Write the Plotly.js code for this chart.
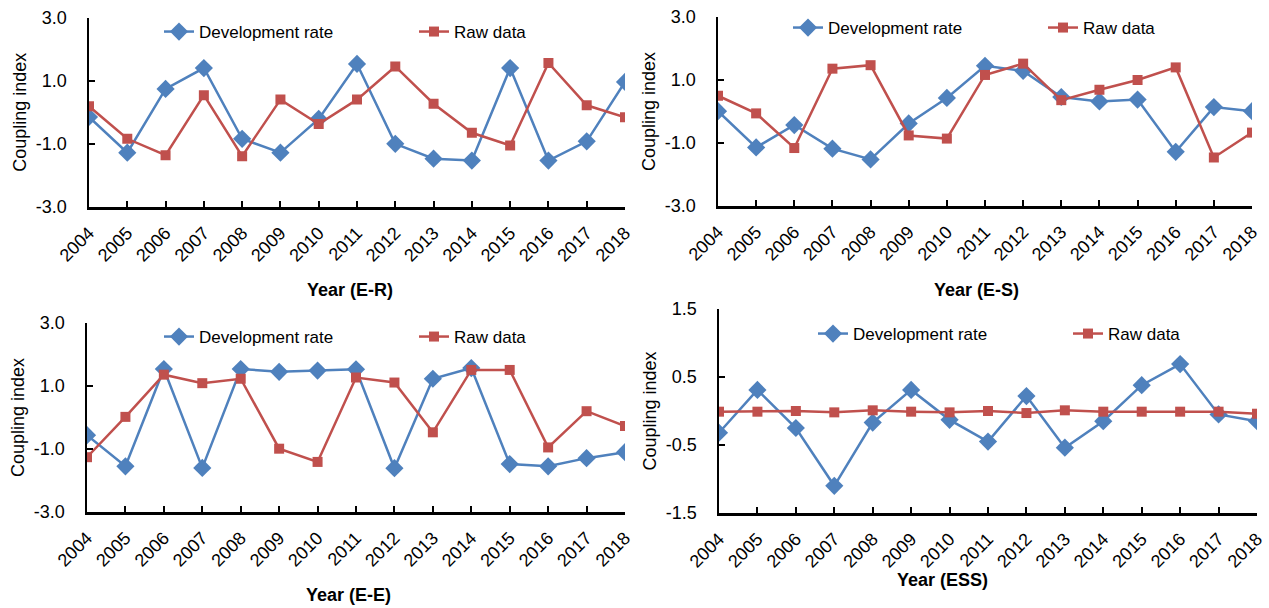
<!DOCTYPE html>
<html>
<head>
<meta charset="utf-8">
<script src="https://cdn.plot.ly/plotly-3.0.1.min.js"></script>
<style>html,body{margin:0;padding:0;background:#fff;}#chart{width:1269px;height:608px;}</style>
</head>
<body>
<div id="chart"></div>
<script>
// ---- data ----
const years = [2004,2005,2006,2007,2008,2009,2010,2011,2012,2013,2014,2015,2016,2017,2018];
const seriesNames = ['Development rate', 'Raw data'];
const panelTitles = ['Year (E-R)', 'Year (E-S)', 'Year (E-E)', 'Year (ESS)'];
const yTitle = 'Coupling index';
const yTicksWide = [-3, -1, 1, 3];
const yTicksNarrow = [-1.5, -0.5, 0.5, 1.5];

const erDev  = [-0.15,-1.28,0.74,1.40,-0.84,-1.28,-0.21,1.53,-1.00,-1.47,-1.53,1.40,-1.53,-0.92,0.96];
const erRaw  = [0.19,-0.84,-1.36,0.54,-1.39,0.40,-0.37,0.40,1.45,0.27,-0.65,-1.05,1.56,0.22,-0.16];
const esDev  = [0.01,-1.14,-0.43,-1.18,-1.52,-0.38,0.43,1.45,1.29,0.46,0.32,0.38,-1.28,0.14,0.01];
const esRaw  = [0.50,-0.06,-1.16,1.36,1.47,-0.76,-0.86,1.16,1.52,0.36,0.69,1.00,1.40,-1.46,-0.67];
const eeDev  = [-0.56,-1.55,1.54,-1.60,1.54,1.45,1.49,1.53,-1.61,1.23,1.57,-1.48,-1.55,-1.29,-1.10];
const eeRaw  = [-1.26,0.02,1.36,1.09,1.23,-0.99,-1.41,1.27,1.11,-0.47,1.51,1.51,-0.95,0.20,-0.27];
const essDev = [-0.32,0.31,-0.25,-1.10,-0.17,0.31,-0.13,-0.45,0.22,-0.54,-0.15,0.38,0.69,-0.05,-0.15];
const essRaw = [-0.01,-0.01,0.00,-0.02,0.01,-0.01,-0.02,0.00,-0.03,0.01,-0.01,-0.01,-0.01,-0.01,-0.04];

const panels = [
  {dev: erDev,  raw: erRaw,  yt: yTicksWide},
  {dev: esDev,  raw: esRaw,  yt: yTicksWide},
  {dev: eeDev,  raw: eeRaw,  yt: yTicksWide},
  {dev: essDev, raw: essRaw, yt: yTicksNarrow}
];

// ---- layout geometry (pixels) ----
const W = 1269, H = 608;
const boxes = [
  {x0: 89,  x1: 625,  y0: 17.5, y1: 207, leg: {x: 159, y: 32},  xt: {x: 350, y: 290}},
  {x0: 718, x1: 1252, y0: 17,   y1: 206, leg: {x: 788, y: 28},  xt: {x: 976, y: 290}},
  {x0: 87,  x1: 625,  y0: 323,  y1: 512, leg: {x: 159, y: 337}, xt: {x: 348, y: 595}},
  {x0: 719, x1: 1257, y0: 309,  y1: 513, leg: {x: 813, y: 334}, xt: {x: 942, y: 580}}
];

const BLUE = '#4F81BD', RED = '#C0504D';
const FONT = 'Liberation Sans, Arial, sans-serif';

const traces = [];
const layout = {
  width: W, height: H,
  margin: {l: 0, r: 0, t: 0, b: 0, autoexpand: false},
  paper_bgcolor: '#ffffff', plot_bgcolor: '#ffffff',
  font: {family: FONT, color: '#000', size: 17},
  showlegend: true,
  annotations: []
};

boxes.forEach((b, i) => {
  const n = i + 1;
  const xa = 'x' + (n === 1 ? '' : n), ya = 'y' + (n === 1 ? '' : n);
  const legName = n === 1 ? 'legend' : 'legend' + n;
  const yt = panels[i].yt;
  traces.push({
    x: years, y: panels[i].dev, xaxis: xa, yaxis: ya, type: 'scatter', mode: 'lines+markers',
    name: seriesNames[0], legend: legName,
    line: {color: BLUE, width: 2.5}, marker: {symbol: 'diamond', size: 14, color: BLUE}
  });
  traces.push({
    x: years, y: panels[i].raw, xaxis: xa, yaxis: ya, type: 'scatter', mode: 'lines+markers',
    name: seriesNames[1], legend: legName,
    line: {color: RED, width: 2.5}, marker: {symbol: 'square', size: 10, color: RED}
  });
  const xk = 'xaxis' + (n === 1 ? '' : n), yk = 'yaxis' + (n === 1 ? '' : n);
  layout[xk] = {
    domain: [b.x0 / W, b.x1 / W], anchor: ya, automargin: false,
    range: [years[0], years[years.length - 1]],
    tickmode: 'array', tickvals: years, ticktext: years.map(String),
    tickangle: -45, ticks: 'inside', ticklen: 6, tickwidth: 2, tickcolor: '#000',
    showline: true, linecolor: '#000', linewidth: 2.5, showgrid: false, zeroline: false,
    tickfont: {size: 18, family: FONT}, ticklabelstandoff: 6, fixedrange: true
  };
  layout[yk] = {
    domain: [(H - b.y1) / H, (H - b.y0) / H], anchor: xa, automargin: false,
    range: [yt[0], yt[yt.length - 1]],
    tickmode: 'array', tickvals: yt, ticktext: yt.map(v => v.toFixed(1)),
    ticks: 'inside', ticklen: 6, tickwidth: 2, tickcolor: '#000',
    showline: true, linecolor: '#000', linewidth: 2.5, showgrid: false, zeroline: false,
    tickfont: {size: 18, family: FONT}, ticklabelstandoff: 16,
    title: {text: yTitle, font: {size: 18, family: FONT}, standoff: 5}, fixedrange: true
  };
  layout[legName] = {
    x: b.leg.x / W, y: (H - b.leg.y) / H, xanchor: 'left', yanchor: 'middle',
    orientation: 'h', bgcolor: 'rgba(0,0,0,0)', borderwidth: 0,
    font: {size: 17, family: FONT}, entrywidth: 210, entrywidthmode: 'pixels',
    itemclick: false, itemdoubleclick: false
  };
  layout.annotations.push({
    text: '<b>' + panelTitles[i] + '</b>', xref: 'paper', yref: 'paper',
    x: b.xt.x / W, y: (H - b.xt.y) / H, xanchor: 'center', yanchor: 'middle',
    showarrow: false, font: {size: 18, family: FONT}
  });
});

Plotly.newPlot('chart', traces, layout, {staticPlot: true, displayModeBar: false});
</script>
</body>
</html>
